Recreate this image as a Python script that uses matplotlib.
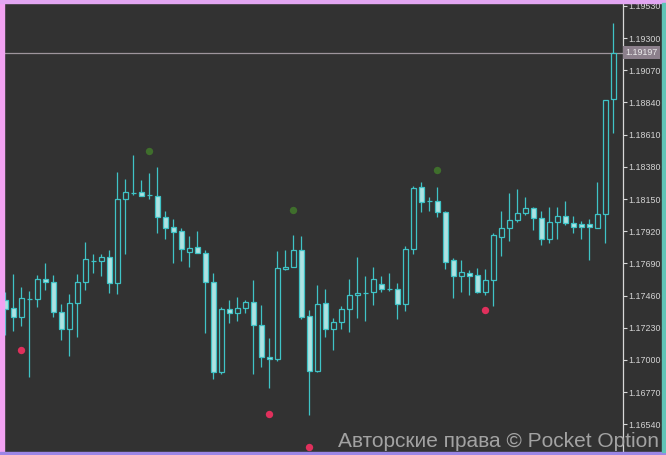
import matplotlib
matplotlib.use("Agg")
import matplotlib.pyplot as plt
from matplotlib.patches import Rectangle
import numpy as np

# OHLC candles, oldest first (first one is cut by the left edge)
opens = [1.17429, 1.17371, 1.17307, 1.17436, 1.17436, 1.17579, 1.17557, 1.17343, 1.17221, 1.17407,
         1.17557, 1.17707, 1.17707, 1.17736, 1.17550, 1.18151, 1.18193, 1.18201, 1.18179, 1.18172,
         1.18022, 1.17950, 1.17922, 1.17772, 1.17807, 1.17765, 1.17557, 1.16914, 1.17364, 1.17336,
         1.17371, 1.17414, 1.17250, 1.17021, 1.17007, 1.17650, 1.17665, 1.17786, 1.17314, 1.16921,
         1.17407, 1.17221, 1.17271, 1.17364, 1.17464, 1.17479, 1.17486, 1.17543, 1.17507, 1.17507,
         1.17400, 1.17793, 1.18236, 1.18136, 1.18136, 1.18058, 1.17715, 1.17600, 1.17622, 1.17607,
         1.17486, 1.17572, 1.17879, 1.17943, 1.18000, 1.18050, 1.18086, 1.18015, 1.17865, 1.17986,
         1.18029, 1.17979, 1.17972, 1.17972, 1.17943, 1.18043, 1.18865]
highs = [1.17486, 1.17614, 1.17522, 1.17493, 1.17607, 1.17693, 1.17607, 1.17400, 1.17472, 1.17614,
         1.17843, 1.17757, 1.17757, 1.17786, 1.18344, 1.18294, 1.18465, 1.18286, 1.18336, 1.18379,
         1.18065, 1.18008, 1.17943, 1.17886, 1.17922, 1.17786, 1.17622, 1.17379, 1.17429, 1.17450,
         1.17429, 1.17572, 1.17393, 1.17157, 1.17779, 1.17786, 1.17893, 1.17886, 1.17357, 1.17536,
         1.17507, 1.17300, 1.17386, 1.17579, 1.17736, 1.17600, 1.17665, 1.17600, 1.17622, 1.17550,
         1.17815, 1.18244, 1.18272, 1.18165, 1.18236, 1.18065, 1.17729, 1.17715, 1.17643, 1.17657,
         1.17650, 1.17908, 1.18065, 1.18193, 1.18222, 1.18165, 1.18093, 1.18065, 1.18093, 1.18093,
         1.18136, 1.18029, 1.17993, 1.18008, 1.18272, 1.18858, 1.19409]
lows = [1.17178, 1.17207, 1.17243, 1.16878, 1.17379, 1.17500, 1.17307, 1.17143, 1.17028, 1.17164,
        1.17500, 1.17622, 1.17600, 1.17479, 1.17472, 1.17757, 1.18179, 1.18172, 1.18151, 1.17908,
        1.17865, 1.17693, 1.17707, 1.17665, 1.17765, 1.17193, 1.16864, 1.16900, 1.17264, 1.17279,
        1.17336, 1.16900, 1.16950, 1.16800, 1.16993, 1.17643, 1.17665, 1.17293, 1.16607, 1.16914,
        1.17164, 1.17071, 1.17221, 1.17200, 1.17300, 1.17279, 1.17393, 1.17486, 1.17493, 1.17293,
        1.17350, 1.17757, 1.18058, 1.18065, 1.18022, 1.17650, 1.17443, 1.17486, 1.17464, 1.17479,
        1.17464, 1.17386, 1.17743, 1.17850, 1.17986, 1.18036, 1.17929, 1.17822, 1.17836, 1.17865,
        1.17965, 1.17908, 1.17865, 1.17715, 1.17943, 1.17836, 1.18622]
closes = [1.17364, 1.17307, 1.17443, 1.17436, 1.17579, 1.17557, 1.17343, 1.17221, 1.17407, 1.17557,
          1.17722, 1.17707, 1.17736, 1.17550, 1.18151, 1.18201, 1.18193, 1.18172, 1.18179, 1.18022,
          1.17943, 1.17915, 1.17793, 1.17800, 1.17765, 1.17557, 1.16914, 1.17364, 1.17336, 1.17371,
          1.17414, 1.17250, 1.17021, 1.17007, 1.17657, 1.17665, 1.17786, 1.17307, 1.16921, 1.17400,
          1.17221, 1.17271, 1.17364, 1.17464, 1.17479, 1.17479, 1.17579, 1.17507, 1.17507, 1.17400,
          1.17793, 1.18229, 1.18129, 1.18136, 1.18058, 1.17700, 1.17600, 1.17629, 1.17600, 1.17486,
          1.17572, 1.17893, 1.17943, 1.18000, 1.18050, 1.18086, 1.18015, 1.17865, 1.17986, 1.18029,
          1.17979, 1.17950, 1.17950, 1.17950, 1.18043, 1.18858, 1.19197]

# fractal-style markers (candle index counted from the first full candle)
up_idx = [17, 35, 53]
up_val = [1.18494, 1.18072, 1.18358]
down_idx = [1, 32, 37, 59]
down_val = [1.17071, 1.16614, 1.16378, 1.17357]

price_ticks = [1.16540, 1.16770, 1.17000, 1.17230, 1.17460, 1.17690, 1.17920,
               1.18150, 1.18380, 1.18610, 1.18840, 1.19070, 1.19300, 1.19530]
last_price = 1.19197

bg = "#323232"
candle_col = "#3fc3c6"
bear_fill = "#aee2e2"

W, H = 666, 455
fig = plt.figure(figsize=(W / 100, H / 100), dpi=100, facecolor=bg)
ax = fig.add_axes([5 / W, 3 / H, 618 / W, 449 / H], facecolor=bg)

o = np.array(opens)
h = np.array(highs)
l = np.array(lows)
c = np.array(closes)
x = np.arange(len(o)) - 1

ax.vlines(x, l, h, color=candle_col, lw=0.9, zorder=2)
bull = c >= o
body_lo = np.minimum(o, c)
body_hi = np.maximum(o, c)
ax.bar(x[bull], (body_hi - body_lo)[bull], bottom=body_lo[bull], width=0.6,
       facecolor=bg, edgecolor=candle_col, linewidth=0.9, zorder=3)
ax.bar(x[~bull], (body_hi - body_lo)[~bull], bottom=body_lo[~bull], width=0.6,
       facecolor=bear_fill, edgecolor=candle_col, linewidth=0.9, zorder=3)

ax.scatter(up_idx, up_val, s=28, color="#3f6e2c", zorder=4, linewidths=0)
ax.scatter(down_idx, down_val, s=28, color="#e0305c", zorder=4, linewidths=0)

ax.axhline(last_price, color="#9e959c", lw=0.9, zorder=1)

ax.set_xlim(-1.04, 76.2)
ax.set_ylim(1.16342, 1.19551)

for s in ["left", "top", "bottom"]:
    ax.spines[s].set_visible(False)
ax.spines["right"].set_color("#d8d8d8")
ax.spines["right"].set_linewidth(0.9)
ax.set_xticks([])
ax.yaxis.tick_right()
ax.set_yticks(price_ticks)
ax.set_yticklabels([f"{v:.5f}" for v in price_ticks])
ax.tick_params(axis="y", direction="out", length=3, width=0.8, color="#d8d8d8",
               labelcolor="#d4d4d4", labelsize=6.4, pad=1)
for t in ax.get_yticklabels():
    t.set_fontfamily("Liberation Sans")

ax.text(1.004, last_price, f"{last_price:.5f}", transform=ax.get_yaxis_transform(),
        ha="left", va="center", fontsize=6.4, color="#ececec", family="Liberation Sans",
        bbox=dict(boxstyle="square,pad=0.25", facecolor="#8c808c", edgecolor="none"),
        zorder=5, clip_on=False)

fig.text(659 / W, 4 / H, "Авторские права © Pocket Option", ha="right", va="bottom",
         fontsize=15, color="#a9a9a9", family="Liberation Sans", alpha=0.95)

# coloured frame around the terminal window
fig.patches.append(Rectangle((0, 0), 4 / W, 1, transform=fig.transFigure, color="#f2a2f2"))
fig.patches.append(Rectangle((0, 1 - 3 / H), 1, 3 / H, transform=fig.transFigure, color="#e2a6f2"))
fig.patches.append(Rectangle((0, 0), 1, 3 / H, transform=fig.transFigure, color="#9c86e6"))
fig.patches.append(Rectangle((1 - 4 / W, 3 / H), 4 / W, 1 - 6 / H, transform=fig.transFigure, color="#5fc4b6"))

fig.savefig("out.png", dpi=100, facecolor=bg)
